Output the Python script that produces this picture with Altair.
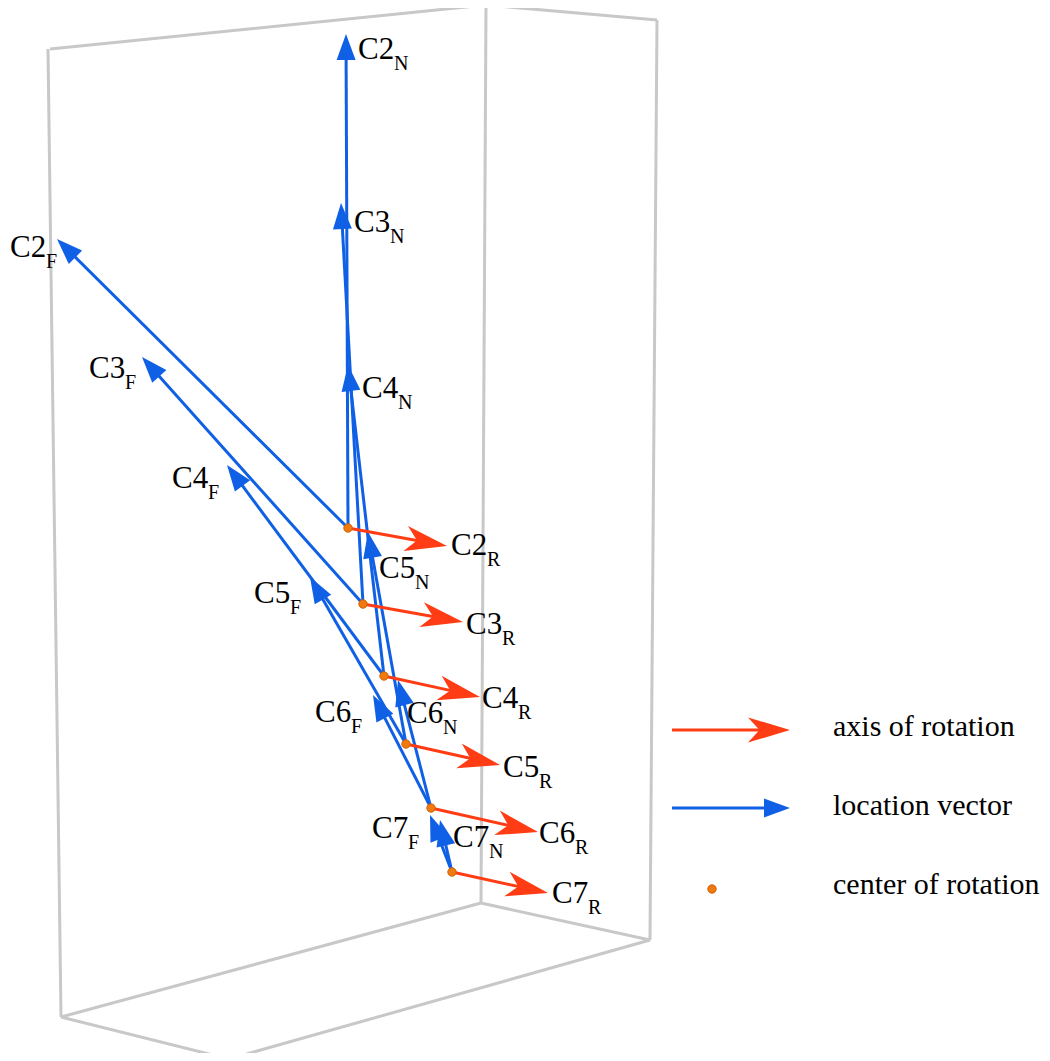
import math
import altair as alt
import pandas as pd

# ---- data (screen-projected coordinates) ----
names = ["C2", "C3", "C4", "C5", "C6", "C7"]
center_x = [348, 363, 384, 406, 431, 452]
center_y = [528, 604, 676, 744, 808, 872]

# location vectors (N and F) tips
n_tip_x = [346, 341, 348, 368, 398, 440]
n_tip_y = [34, 203, 365, 532, 680, 820]
f_tip_x = [57, 142, 227, 310, 373, 430]
f_tip_y = [239, 357, 465, 577, 695, 815]
# axis of rotation tips
r_tip_x = [447, 463, 480, 500, 538, 548]
r_tip_y = [546, 622, 697, 765, 832, 893]

# label anchors (left, baseline)
n_lab_x = [358, 354, 362, 379, 407, 453]
n_lab_y = [59, 232, 398, 578, 723, 847]
f_lab_x = [10, 89, 172, 254, 315, 372]
f_lab_y = [257, 378, 488, 603, 722, 838]
r_lab_x = [451, 466, 482, 503, 539, 552]
r_lab_y = [555, 634, 708, 777, 843, 903]

# bounding box edges (projected)
box_x0 = [50, 486, 48, 486, 657, 61, 481, 61, 229]
box_y0 = [49, 5, 49, 5, 20, 1017, 903, 1017, 1059]
box_x1 = [486, 657, 61, 481, 650, 481, 650, 229, 650]
box_y1 = [5, 20, 1017, 903, 940, 903, 940, 1059, 940]

# legend
leg_labels = ["axis of rotation", "location vector", "center of rotation"]
leg_y = [730, 808, 889]
leg_text_y = [736, 815, 894]
leg_x0 = 672
leg_x1 = 790
leg_dot_x = 712
leg_text_x = 833

BLUE = "#1060E6"
RED = "#FF3C14"
ORANGE = "#F07A10"
GRAY = "#C8C8C8"
FONT = "Liberation Serif"

BLUE_HEAD = 26
RED_HEAD = 42


def arrows(x0, y0, x1, y1, back):
    rows = []
    for a, b, c, d in zip(x0, y0, x1, y1):
        dx, dy = c - a, d - b
        L = math.hypot(dx, dy)
        ux, uy = dx / L, dy / L
        rows.append(dict(x=a, y=b, xe=c - back * ux, ye=d - back * uy,
                         tx=c, ty=d,
                         ang=(math.degrees(math.atan2(dy, dx)) + 360) % 360))
    return pd.DataFrame(rows)


blue = pd.concat([
    arrows(center_x, center_y, n_tip_x, n_tip_y, BLUE_HEAD * 0.5),
    arrows(center_x, center_y, f_tip_x, f_tip_y, BLUE_HEAD * 0.5),
    arrows([leg_x0], [leg_y[1]], [leg_x1], [leg_y[1]], BLUE_HEAD * 0.5),
])
red = pd.concat([
    arrows(center_x, center_y, r_tip_x, r_tip_y, 25),
    arrows([leg_x0], [leg_y[0]], [leg_x1], [leg_y[0]], 25),
])
dots = pd.DataFrame({"x": center_x + [leg_dot_x], "y": center_y + [leg_y[2]]})
box = pd.DataFrame({"x": box_x0, "y": box_y0, "xe": box_x1, "ye": box_y1})

labels = pd.DataFrame({
    "x": n_lab_x + f_lab_x + r_lab_x,
    "y": n_lab_y + f_lab_y + r_lab_y,
    "main": names * 3,
    "sub": ["N"] * 6 + ["F"] * 6 + ["R"] * 6,
})
legend = pd.DataFrame({"x": [leg_text_x] * 3, "y": leg_text_y, "t": leg_labels})

W, H = 1034, 1045
xs = alt.Scale(domain=[8, 8 + W], nice=False, zero=False)
ys = alt.Scale(domain=[8, 8 + H], nice=False, zero=False, reverse=True)
X = lambda f: alt.X(f, scale=xs, axis=None)
Y = lambda f: alt.Y(f, scale=ys, axis=None)

box_l = alt.Chart(box).mark_rule(color=GRAY, strokeWidth=3).encode(
    x=X("x:Q"), y=Y("y:Q"), x2="xe:Q", y2="ye:Q")

blue_shaft = alt.Chart(blue).mark_rule(color=BLUE, strokeWidth=3).encode(
    x=X("x:Q"), y=Y("y:Q"), x2="xe:Q", y2="ye:Q")
blue_head = alt.Chart(blue).mark_point(
    shape="M0,0L-2,-0.73L-2,0.73Z", filled=True, opacity=1, color=BLUE,
    size=BLUE_HEAD ** 2, strokeWidth=0).encode(
    x=X("tx:Q"), y=Y("ty:Q"), angle=alt.Angle("ang:Q", scale=None))

red_shaft = alt.Chart(red).mark_rule(color=RED, strokeWidth=3).encode(
    x=X("x:Q"), y=Y("y:Q"), x2="xe:Q", y2="ye:Q")
red_head = alt.Chart(red).mark_point(
    shape="M0,0L-2,-0.6L-1.45,0L-2,0.6Z", filled=True, opacity=1, color=RED,
    size=RED_HEAD ** 2, strokeWidth=0).encode(
    x=X("tx:Q"), y=Y("ty:Q"), angle=alt.Angle("ang:Q", scale=None))

dot_l = alt.Chart(dots).mark_circle(
    color=ORANGE, size=70, opacity=1, stroke="#D06000", strokeWidth=1).encode(
    x=X("x:Q"), y=Y("y:Q"))

main_t = alt.Chart(labels).mark_text(
    align="left", baseline="alphabetic", font=FONT,
    fontSize=31, color="black").encode(x=X("x:Q"), y=Y("y:Q"), text="main:N")
sub_t = alt.Chart(labels).mark_text(
    align="left", baseline="alphabetic", font=FONT,
    fontSize=20, color="black", dx=36, dy=11).encode(
    x=X("x:Q"), y=Y("y:Q"), text="sub:N")
leg_t = alt.Chart(legend).mark_text(
    align="left", baseline="alphabetic", font=FONT,
    fontSize=30, color="black").encode(x=X("x:Q"), y=Y("y:Q"), text="t:N")

chart = alt.layer(
    box_l, blue_shaft, blue_head, red_shaft, red_head, dot_l, main_t, sub_t, leg_t
).properties(width=W, height=H, padding=0, autosize="none").configure_view(
    strokeWidth=0)

chart.save("out.html", embed_options={"renderer": "svg", "actions": False})
